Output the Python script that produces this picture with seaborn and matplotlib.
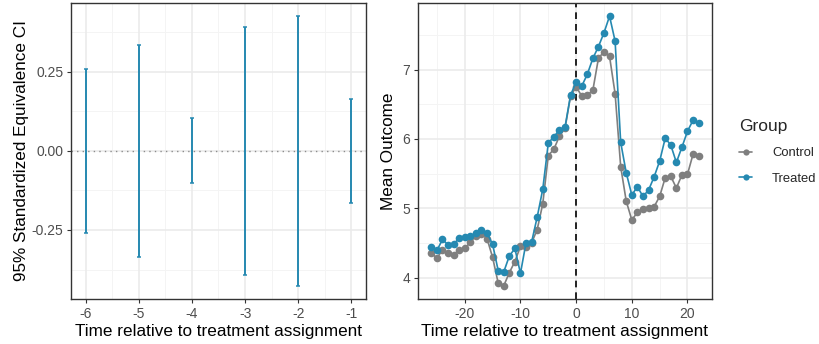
import matplotlib
matplotlib.use("Agg")
import numpy as np
import pandas as pd
import seaborn as sns
import matplotlib.pyplot as plt
from matplotlib.ticker import FixedLocator
from matplotlib.lines import Line2D

# ---------------- data ----------------
lead_times = [-6, -5, -4, -3, -2, -1]
ci_lower = [-0.258, -0.336, -0.102, -0.393, -0.426, -0.164]
ci_upper = [0.257, 0.335, 0.103, 0.391, 0.426, 0.163]

time = list(range(-26, 23))
control = [4.35, 4.28, 4.40, 4.36, 4.33, 4.40, 4.42, 4.51, 4.60, 4.63, 4.56, 4.29,
           3.92, 3.88, 4.07, 4.23, 4.45, 4.44, 4.50, 4.69, 5.06, 5.76, 5.85, 6.04,
           6.15, 6.62, 6.75, 6.62, 6.63, 6.70, 7.16, 7.26, 7.19, 6.65, 5.60, 5.10,
           4.83, 4.94, 4.99, 5.00, 5.02, 5.17, 5.44, 5.46, 5.29, 5.48, 5.49, 5.78, 5.75]
treated = [4.44, 4.39, 4.55, 4.47, 4.48, 4.57, 4.58, 4.60, 4.64, 4.69, 4.64, 4.48,
           4.10, 4.08, 4.31, 4.42, 4.06, 4.50, 4.51, 4.87, 5.27, 5.94, 6.03, 6.13,
           6.17, 6.63, 6.82, 6.76, 6.93, 7.16, 7.33, 7.53, 7.77, 7.41, 5.95, 5.51,
           5.19, 5.31, 5.17, 5.26, 5.45, 5.68, 6.01, 5.91, 5.66, 5.88, 6.11, 6.27, 6.23]
groups = ["Control", "Treated"]

# ---------------- style ----------------
sns.set_style("white")
plt.rcParams["font.family"] = ["Liberation Sans", "DejaVu Sans"]

TEAL = "#2589B1"
GREY = "#7F7F7F"
FRAME = "#333333"
TICKTXT = "#4D4D4D"
MAJ = "#EBEBEB"
MIN = "#F4F4F4"

fig = plt.figure(figsize=(8.2, 3.44), dpi=100)
W, H = 820, 344


def px_axes(l, t, r, b):
    return fig.add_axes([l / W, 1 - b / H, (r - l) / W, (b - t) / H])


def style_axes(ax, xmaj, xmin, ymaj, ymin):
    ax.set_facecolor("white")
    for v in xmin:
        ax.axvline(v, color=MIN, lw=0.7, zorder=0)
    for v in ymin:
        ax.axhline(v, color=MIN, lw=0.7, zorder=0)
    for v in xmaj:
        ax.axvline(v, color=MAJ, lw=1.2, zorder=0)
    for v in ymaj:
        ax.axhline(v, color=MAJ, lw=1.2, zorder=0)
    for s in ax.spines.values():
        s.set_color(FRAME)
        s.set_linewidth(1.0)
    ax.tick_params(axis="both", which="major", length=3, width=0.8, color=FRAME,
                   labelsize=10, labelcolor=TICKTXT, pad=2.5)
    ax.xaxis.set_major_locator(FixedLocator(xmaj))
    ax.yaxis.set_major_locator(FixedLocator(ymaj))
    ax.tick_params(bottom=True, left=True)


# ---------------- left panel ----------------
ax1 = px_axes(71, 3, 366, 299)
df_ci = pd.DataFrame({"time": lead_times, "lower": ci_lower, "upper": ci_upper})
df_ci["mid"] = (df_ci["lower"] + df_ci["upper"]) / 2
ax1.axhline(0, color="#8C8C8C", lw=1.0, ls=(0, (1, 3)), zorder=1)
ax1.errorbar(df_ci["time"], df_ci["mid"],
             yerr=[df_ci["mid"] - df_ci["lower"], df_ci["upper"] - df_ci["mid"]],
             fmt="none", ecolor=TEAL, elinewidth=1.4, capsize=1.5, capthick=1.1, zorder=3)
ax1.set_xlim(-6.275, -0.725)
ax1.set_ylim(-0.468, 0.467)
style_axes(ax1, lead_times, [-5.5, -4.5, -3.5, -2.5, -1.5],
           [-0.25, 0.0, 0.25], [-0.375, -0.125, 0.125, 0.375])
ax1.set_yticklabels(["-0.25", "0.00", "0.25"])
ax1.set_xticklabels([str(t) for t in lead_times])
ax1.set_xlabel("Time relative to treatment assignment", fontsize=12.3, color="black", labelpad=2.5)
ax1.set_ylabel("95% Standardized Equivalence CI", fontsize=12.3, color="black", labelpad=2)

# ---------------- right panel ----------------
ax2 = px_axes(418, 3, 712, 299)
df = pd.DataFrame({
    "time": time * 2,
    "outcome": control + treated,
    "Group": [groups[0]] * len(time) + [groups[1]] * len(time),
})
ax2.axvline(0, color="black", lw=1.2, ls=(0, (4, 3)), zorder=2)
sns.lineplot(data=df, x="time", y="outcome", hue="Group", hue_order=groups,
             palette={"Control": GREY, "Treated": TEAL}, marker="o", markersize=5.5,
             markeredgewidth=0, linewidth=1.2, ax=ax2, legend=False, zorder=3)
ax2.set_xlim(-28.4, 24.4)
ax2.set_ylim(3.69, 7.96)
style_axes(ax2, [-20, -10, 0, 10, 20], [-25, -15, -5, 5, 15],
           [4, 5, 6, 7], [4.5, 5.5, 6.5, 7.5])
ax2.set_xticklabels(["-20", "-10", "0", "10", "20"])
ax2.set_yticklabels(["4", "5", "6", "7"])
ax2.set_xlabel("Time relative to treatment assignment", fontsize=12.3, color="black", labelpad=2.5)
ax2.set_ylabel("Mean Outcome", fontsize=12.3, color="black", labelpad=5)

# ---------------- legend ----------------
handles = [Line2D([0], [0], color=GREY, marker="o", markersize=4.5, markeredgewidth=0, lw=1.2),
           Line2D([0], [0], color=TEAL, marker="o", markersize=4.5, markeredgewidth=0, lw=1.2)]
leg = fig.legend(handles, groups, title="Group", loc="upper left",
                 bbox_to_anchor=(729 / W, 1 - 109 / H), frameon=False,
                 fontsize=9.4, title_fontsize=12.5, handlelength=1.0,
                 handletextpad=1.5, labelspacing=1.05, borderpad=0.3)
leg._legend_box.align = "left"
leg._legend_box.sep = 9

fig.savefig("out.png", dpi=100)
